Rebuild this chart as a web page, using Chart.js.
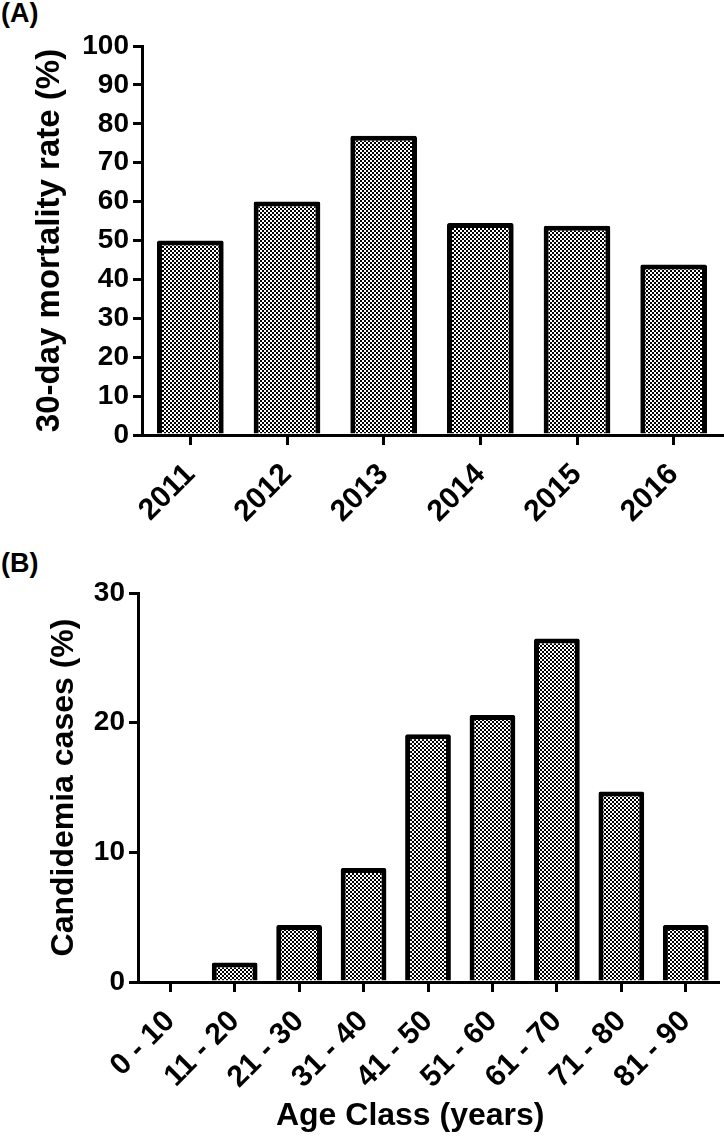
<!DOCTYPE html>
<html>
<head>
<meta charset="utf-8">
<script src="https://cdn.jsdelivr.net/npm/chart.js@4/dist/chart.umd.min.js"></script>
<style>
  body { margin: 0; background: #fff; width: 724px; height: 1137px; position: relative; overflow: hidden;
         font-family: "Liberation Sans", Arial, sans-serif; }
  .panel { position: absolute; left: 1px; font-weight: bold; font-size: 27px; line-height: 26px; }
  #lblA { top: 0px; }
  #lblB { top: 550px; }
  canvas { position: absolute; left: 0; }
  #chartA { top: 0; }
  #chartB { top: 545px; }
</style>
</head>
<body>
<div class="panel" id="lblA">(A)</div>
<div class="panel" id="lblB">(B)</div>
<canvas id="chartA" width="724" height="545"></canvas>
<canvas id="chartB" width="724" height="592"></canvas>
<script>
// panel A
const years = ['2011', '2012', '2013', '2014', '2015', '2016'];
const mortality = [50, 60, 76.9, 54.5, 53.8, 43.8];
const mortalityTitle = '30-day mortality rate (%)';

// panel B
const ageClasses = ['0 - 10', '11 - 20', '21 - 30', '31 - 40', '41 - 50', '51 - 60', '61 - 70', '71 - 80', '81 - 90'];
const candidemia = [0, 1.5, 4.4, 8.8, 19.1, 20.6, 26.5, 14.7, 4.4];
const candidemiaTitle = 'Candidemia cases (%)';
// trailing nbsp nudges the centred title a bit left, like the original
const ageTitle = 'Age Class (years)\u00a0\u00a0\u00a0\u00a0';

// checkered fill like the GraphPad pattern
function checkerPattern() {
    const c = document.createElement('canvas');
    c.width = 4; c.height = 4;
    const g = c.getContext('2d');
    g.fillStyle = '#fff';
    g.fillRect(0, 0, 4, 4);
    g.fillStyle = '#000';
    g.fillRect(0, 0, 2, 2);
    g.fillRect(2, 2, 2, 2);
    return g.createPattern(c, 'repeat');
}

const bold = size => ({ family: '"Liberation Sans", Arial, sans-serif', size: size, weight: 'bold' });

function barChart(el, labels, values, opts) {
    const xScale = {
        grid: { display: true, drawOnChartArea: false, drawTicks: true, offset: false,
                tickLength: 10, lineWidth: 3, color: '#000' },
        border: { display: true, color: '#000', width: 3 },
        ticks: { color: '#000', font: bold(30), minRotation: 45, maxRotation: 45, padding: 12, autoSkip: false },
        afterFit: s => { s.height = opts.xHeight; }
    };
    if (opts.xTitle) {
        xScale.title = { display: true, text: opts.xTitle, color: '#000', font: bold(32),
                         padding: { top: 0, bottom: opts.xTitlePad } };
    }
    return new Chart(el, {
        type: 'bar',
        data: {
            labels: labels,
            datasets: [{
                data: values,
                backgroundColor: checkerPattern(),
                borderColor: '#000',
                borderWidth: 5,
                borderSkipped: 'start',
                borderRadius: 2,
                barPercentage: opts.barPct,
                categoryPercentage: 1
            }]
        },
        options: {
            responsive: false,
            animation: false,
            devicePixelRatio: 1,
            layout: { padding: opts.padding },
            plugins: { legend: { display: false }, tooltip: { enabled: false } },
            scales: {
                x: xScale,
                y: {
                    min: 0,
                    max: opts.yMax,
                    ticks: { stepSize: opts.yStep, color: '#000', font: bold(28), padding: 4 },
                    grid: { display: true, drawOnChartArea: false, drawTicks: true,
                            tickLength: 9, lineWidth: 3, color: '#000' },
                    border: { display: true, color: '#000', width: 3 },
                    title: { display: true, text: opts.yTitle, color: '#000', font: bold(opts.yTitleSize),
                             padding: { top: opts.yTitlePad, bottom: 0 } },
                    afterFit: s => { s.width = opts.yWidth; }
                }
            }
        }
    });
}

barChart(document.getElementById('chartA'), years, mortality, {
    yMax: 100, yStep: 10, yTitle: mortalityTitle, yTitleSize: 33, yTitlePad: 30, yWidth: 142,
    xHeight: 110, barPct: 0.69,
    padding: { top: 46, right: 2, left: 0, bottom: 0 }
});

barChart(document.getElementById('chartB'), ageClasses, candidemia, {
    yMax: 30, yStep: 10, yTitle: candidemiaTitle, yTitleSize: 32, yTitlePad: 45, yWidth: 138,
    xHeight: 155, xTitle: ageTitle, xTitlePad: 2, barPct: 0.71,
    padding: { top: 48, right: 6, left: 0, bottom: 0 }
});
</script>
</body>
</html>
